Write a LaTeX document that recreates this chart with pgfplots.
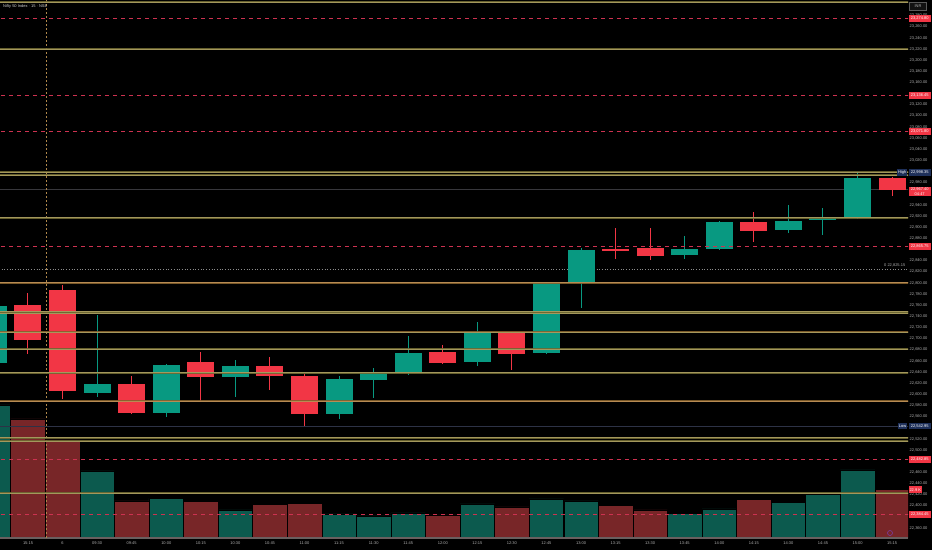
\documentclass[border=0pt]{standalone}
\usepackage{pgfplots}
\pgfplotsset{compat=1.18}
\usepackage{pgfplotstable}
\usepackage{fontspec}
\setmainfont{Liberation Sans}

\definecolor{cup}{RGB}{8,153,129}
\definecolor{cdn}{RGB}{242,54,69}
\definecolor{vup}{RGB}{12,90,78}
\definecolor{vdn}{RGB}{120,38,40}
\definecolor{lvlY}{RGB}{112,106,50}
\definecolor{lvlYc}{RGB}{170,158,98}
\definecolor{lvlO}{RGB}{135,98,45}
\definecolor{lvlOc}{RGB}{190,145,88}
\definecolor{rdash}{RGB}{205,50,80}
\definecolor{axtxt}{RGB}{175,175,175}
\definecolor{navyl}{RGB}{30,48,90}
\definecolor{sepc}{RGB}{175,135,75}

\newcommand{\tf}{\fontsize{4}{4.8}\selectfont}
\newcommand{\hl}[2]{\addplot[#1] coordinates {(-1,#2) (26,#2)};}

% candles: x open high low close
\pgfplotstableread{
x o h l c
-1 22655.8 22768.0 22648.0 22758.6
2 22601.9 22742.5 22594.7 22618.1
4 22566.0 22654.5 22559.9 22652.2
6 22630.6 22661.7 22595.8 22650.9
9 22564.7 22633.0 22555.2 22627.0
10 22625.8 22646.8 22592.9 22640.7
11 22640.7 22704.8 22634.8 22673.7
13 22657.6 22730.5 22651.5 22711.4
15 22673.7 22801.7 22672.0 22800.5
16 22801.7 22862.8 22754.5 22859.2
19 22850.7 22884.3 22842.5 22861.0
20 22860.4 22911.0 22859.0 22910.0
22 22894.5 22940.0 22890.2 22911.8
23 22912.5 22934.0 22886.1 22916.1
24 22916.1 22998.35 22915.0 22987.9
}\greenC
\pgfplotstableread{
x o h l c
0 22760.4 22781.4 22672.5 22697.6
1 22787.4 22796.3 22591.1 22606.6
3 22618.6 22633.0 22565.6 22566.0
5 22657.6 22676.6 22586.8 22631.7
7 22650.9 22667.6 22607.8 22633.0
8 22633.0 22636.0 22542.95 22564.7
12 22675.5 22688.6 22655.0 22656.8
14 22710.7 22712.0 22643.7 22672.5
17 22860.4 22898.1 22842.5 22857.9
18 22862.2 22898.1 22841.2 22848.9
21 22910.0 22926.9 22874.1 22893.3
25 22989.0 22990.0 22956.1 22967.4
}\redC
% volumes
\pgfplotstableread{
x v
-1 133
2 67
4 39.7
6 28
9 24
10 22
11 25
13 34
15 39
16 37
19 24.7
20 29
22 35.3
23 44
24 68
}\greenV
\pgfplotstableread{
x v
0 119
1 98
3 37
5 36.3
7 33.7
8 34.7
12 23
14 31
17 32.3
18 28
21 38.7
25 48.7
}\redV

\begin{document}
\begin{tikzpicture}
\fill[black] (0,0) rectangle (932bp,550bp);
\useasboundingbox (0,0) rectangle (932bp,550bp);

% volume pane
\begin{axis}[at={(0,12bp)}, anchor=south west, width=908bp, height=538bp,
  scale only axis, xmin=-0.81, xmax=25.46, ymin=0, ymax=538,
  axis lines=none, clip mode=individual]
\addplot[ybar, bar shift=0pt, bar width=34.56bp, fill=vup, draw=black, line width=0.5bp] table[x=x,y=v]{\greenV};
\addplot[ybar, bar shift=0pt, bar width=34.56bp, fill=vdn, draw=black, line width=0.5bp] table[x=x,y=v]{\redV};
\end{axis}

% price pane
\begin{axis}[at={(0,12bp)}, anchor=south west, width=908bp, height=538bp,
  scale only axis, xmin=-0.81, xmax=25.46, ymin=22342.1, ymax=23308,
  clip mode=individual,
  axis x line*=bottom, axis y line*=right,
  separate axis lines,
  x axis line style={draw={rgb,255:red,105;green,95;blue,95}, line width=1.5bp, -},
  y axis line style={draw=none},
  major tick length=0pt,
  xtick={0,...,25},
  xticklabels={15:15,6,09:30,09:45,10:00,10:15,10:30,10:45,11:00,11:15,11:30,11:45,12:00,12:15,12:30,12:45,13:00,13:15,13:30,13:45,14:00,14:15,14:30,14:45,15:00,15:15},
  xticklabel style={font=\tf, text=axtxt, yshift=-0.5bp},
  ytick={22360,22400,22420,22440,22460,22500,22520,22560,22580,22600,22620,22640,22660,22680,22700,22720,22740,22760,22780,22800,22820,22840,22880,22900,22920,22940,22980,23020,23040,23060,23080,23100,23120,23160,23180,23200,23220,23240,23260,23280},
  scaled y ticks=false,
  yticklabel style={font=\tf, text=axtxt, anchor=west, inner sep=0pt, xshift=1.5bp,
    /pgf/number format/.cd, fixed, fixed zerofill, precision=2, 1000 sep={,}, assume math mode=true},
]
% faint lines
\hl{line width=0.6bp, color={rgb,255:red,55;green,55;blue,60}}{22967.4}
\hl{line width=0.6bp, color={rgb,255:red,45;green,50;blue,70}}{22542.95}
\hl{line width=0.7bp, dotted, color={rgb,255:red,140;green,140;blue,140}}{22825.15}
% day separator
\addplot[line width=0.8bp, color=sepc, dash pattern=on 2bp off 2bp] coordinates {(0.52,22342.1) (0.52,23308)};

% wicks
\addplot[draw=none, mark=none, error bars/.cd, y dir=both, y explicit, error mark=none,
  error bar style={line width=1bp, draw=cup}]
  table[x=x, y expr={(\thisrow{h}+\thisrow{l})/2}, y error expr={(\thisrow{h}-\thisrow{l})/2}]{\greenC};
\addplot[draw=none, mark=none, error bars/.cd, y dir=both, y explicit, error mark=none,
  error bar style={line width=1bp, draw=cdn}]
  table[x=x, y expr={(\thisrow{h}+\thisrow{l})/2}, y error expr={(\thisrow{h}-\thisrow{l})/2}]{\redC};
% bodies
\addplot[draw=none, mark=none, error bars/.cd, y dir=both, y explicit, error mark=none,
  error bar style={line width=27bp, draw=cup}]
  table[x=x, y expr={(\thisrow{o}+\thisrow{c})/2}, y error expr={max(abs(\thisrow{c}-\thisrow{o})/2,0.9)}]{\greenC};
\addplot[draw=none, mark=none, error bars/.cd, y dir=both, y explicit, error mark=none,
  error bar style={line width=27bp, draw=cdn}]
  table[x=x, y expr={(\thisrow{o}+\thisrow{c})/2}, y error expr={max(abs(\thisrow{c}-\thisrow{o})/2,0.9)}]{\redC};

% level lines (olive / orange)
\hl{draw=lvlY, double=lvlYc, double distance=0.4bp, line width=0.8bp, opacity=0.9}{23304.4}
\hl{draw=lvlY, double=lvlYc, double distance=0.4bp, line width=0.8bp, opacity=0.9}{23219.5}
\hl{draw=lvlY, double=lvlYc, double distance=0.4bp, line width=0.8bp, opacity=0.9}{22998.6}
\hl{draw=lvlY, double=lvlYc, double distance=0.4bp, line width=0.8bp, opacity=0.9}{22993.8}
\hl{draw=lvlY, double=lvlYc, double distance=0.4bp, line width=0.8bp, opacity=0.9}{22917.2}
\hl{draw=lvlO, double=lvlOc, double distance=0.4bp, line width=0.8bp, opacity=0.9}{22800.5}
\hl{draw=lvlY, double=lvlYc, double distance=0.4bp, line width=0.8bp, opacity=0.9}{22748.4}
\hl{draw=lvlY, double=lvlYc, double distance=0.4bp, line width=0.8bp, opacity=0.9}{22745.5}
\hl{draw=lvlO, double=lvlYc, double distance=0.4bp, line width=0.8bp, opacity=0.9}{22711.1}
\hl{draw=lvlY, double=lvlYc, double distance=0.4bp, line width=0.8bp, opacity=0.9}{22680.9}
\hl{draw=lvlY, double=lvlYc, double distance=0.4bp, line width=0.8bp, opacity=0.9}{22638.9}
\hl{draw=lvlO, double=lvlOc, double distance=0.4bp, line width=0.8bp, opacity=0.9}{22587.5}
\hl{draw=lvlY, double=lvlYc, double distance=0.4bp, line width=0.8bp, opacity=0.9}{22522.2}
\hl{draw=lvlY, double=lvlYc, double distance=0.4bp, line width=0.8bp, opacity=0.9}{22516.3}
\hl{draw=lvlY, double=lvlYc, double distance=0.4bp, line width=0.8bp, opacity=0.9}{22422.4}
% red dashed levels
\hl{draw=rdash, line width=1.2bp, dash pattern=on 4bp off 4bp}{23274.80}
\hl{draw=rdash, line width=1.2bp, dash pattern=on 4bp off 4bp}{23136.45}
\hl{draw=rdash, line width=1.2bp, dash pattern=on 4bp off 4bp}{23071.80}
\hl{draw=rdash, line width=1.2bp, dash pattern=on 4bp off 4bp}{22865.75}
\hl{draw=rdash, line width=1.2bp, dash pattern=on 4bp off 4bp}{22482.85}
\hl{draw=rdash, line width=1.2bp, dash pattern=on 4bp off 4bp}{22384.45}

\coordinate (r1) at (axis cs:25.46,23274.80);
\coordinate (r2) at (axis cs:25.46,23136.45);
\coordinate (r3) at (axis cs:25.46,23071.80);
\coordinate (hi) at (axis cs:25.46,22998.35);
\coordinate (cur) at (axis cs:25.46,22967.40);
\coordinate (r4) at (axis cs:25.46,22865.75);
\coordinate (pc) at (axis cs:25.40,22825.15);
\coordinate (lo) at (axis cs:25.46,22542.95);
\coordinate (r5) at (axis cs:25.46,22482.85);
\coordinate (vl) at (axis cs:25.46,22428.8);
\coordinate (r6) at (axis cs:25.46,22384.45);
\end{axis}

\tikzset{lab/.style={anchor=west, font=\tf, text=white, inner sep=0.8bp, minimum height=6.5bp, minimum width=22bp, xshift=0.5bp}}
\node[lab, fill=cdn] at (r1) {23,274.80};
\node[lab, fill=cdn] at (r2) {23,136.45};
\node[lab, fill=cdn] at (r3) {23,071.80};
\node[lab, fill=navyl] at (hi) {22,998.35};
\node[anchor=east, font=\tf, text=white, fill=navyl, inner sep=0.8bp, minimum height=6.5bp] at ([xshift=-0.8bp]hi) {High};
\node[lab, fill=cdn, align=center, yshift=-2bp, inner sep=0.6bp] at (cur) {22,967.40\\04:47};
\node[lab, fill=cdn] at (r4) {22,865.75};
\node[anchor=south east, font=\tf, text=axtxt, inner sep=0.5bp] at ([yshift=1.5bp]pc) {0 22,825.15};
\node[lab, fill=navyl] at (lo) {22,542.95};
\node[anchor=east, font=\tf, text=white, fill=navyl, inner sep=0.8bp, minimum height=6.5bp] at ([xshift=-0.8bp]lo) {Low};
\node[lab, fill=cdn] at (r5) {22,482.85};
\node[lab, fill=cdn, minimum width=11bp] at (vl) {22.9 K};
\node[lab, fill=cdn] at (r6) {22,384.45};

\node[anchor=west, font=\tf, text={rgb,255:red,210;green,210;blue,210}, inner sep=0pt] at (3bp,544bp) {Nifty 50 Index · 15 · NSE};
\node[font=\tf, text=axtxt, draw={rgb,255:red,90;green,90;blue,90}, fill={rgb,255:red,18;green,18;blue,18}, line width=0.5bp, minimum width=17bp, minimum height=8bp, inner sep=0.5bp] at (918bp,543.5bp) {INR};
\node[circle, draw={rgb,255:red,120;green,60;blue,160}, line width=0.6bp, minimum size=5bp, inner sep=0pt] at (890bp,17bp) {};
\end{tikzpicture}
\end{document}
